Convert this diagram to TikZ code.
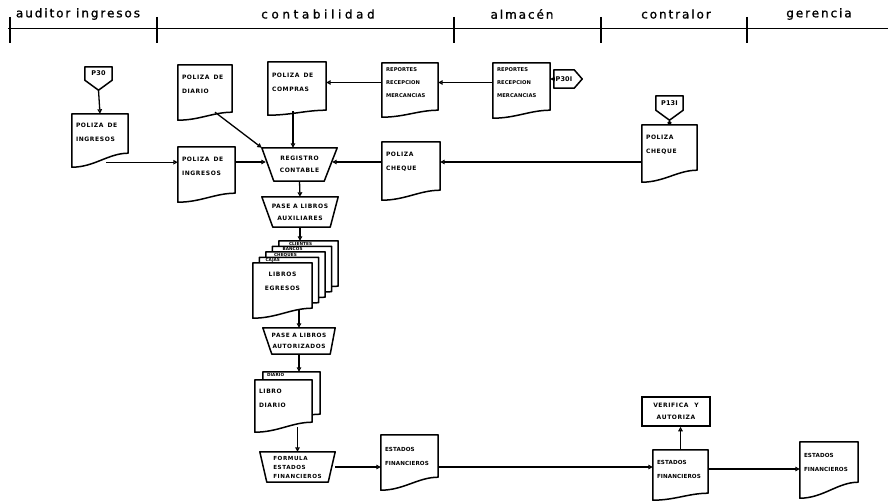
\documentclass[tikz,border=0pt]{standalone}
\usepackage{fontspec}
\usetikzlibrary{calc,arrows.meta}
\newfontfamily\hdrfont[LetterSpace=16,FakeBold=1.2]{DejaVu Sans}
\newfontfamily\hdrwidefont[LetterSpace=30,FakeBold=1.2]{DejaVu Sans}
\newfontfamily\boxfont[LetterSpace=10]{DejaVu Sans}
\newfontfamily\boxtight[LetterSpace=2]{DejaVu Sans}
\newcommand\wgap{\hspace{4pt}}
\pgfdeclarelayer{background}
\pgfsetlayers{background,main}

% document symbol: straight top and sides, wavy bottom (right drop, left drop)
\newcommand\docline[3]{%
  \draw[shp] (#1.north west) -- (#1.north east) -- ($(#1.south east)+(0,#2)$)
    .. controls ($(#1.south east)!0.35!(#1.south west)+(0,#2)$)
       and ($(#1.south east)!0.6!(#1.south west)+(0,#3)$)
    .. ($(#1.south west)+(0,#3)$) -- cycle;}
% manual operation: wide top, narrow bottom (left inset, right inset)
\newcommand\trapline[3]{%
  \draw[shp] (#1.north west) -- (#1.north east) -- ($(#1.south east)+(-#3,0)$)
    -- ($(#1.south west)+(#2,0)$) -- cycle;}
% off-page connectors
\newcommand\offdown[2]{%
  \draw[shp] (#1.north west) -- (#1.north east) -- (#1.south east)
    -- ($(#1.south)+(0,#2)$) -- (#1.south west) -- cycle;}
\newcommand\offright[2]{%
  \draw[shp] (#1.north west) -- (#1.north east) -- ($(#1.east)+(#2,0)$)
    -- (#1.south east) -- (#1.south west) -- cycle;}

\begin{document}
\begin{tikzpicture}[x=1pt,y=-1pt,
  shp/.style={line width=1.5pt, line join=round, fill=white},
  rule/.style={line width=1.5pt},
  hdr/.style={inner sep=0pt, font=\hdrfont\fontsize{12}{12}\selectfont},
  doc/.style 2 args={inner xsep=4pt, inner ysep=0pt, text width=#1,
    minimum height=#2, align=left,
    font=\boxfont\bfseries\fontsize{6}{14}\selectfont},
  tight/.style={font=\boxtight\bfseries\fontsize{5.6}{14}\selectfont},
  trap/.style 2 args={inner sep=0pt, minimum width=#1, minimum height=#2,
    align=center, font=\boxfont\bfseries\fontsize{6}{12}\selectfont},
  procbox/.style 2 args={draw, line width=1.5pt, inner sep=0pt,
    minimum width=#1, minimum height=#2, align=center,
    font=\boxfont\bfseries\fontsize{6}{12}\selectfont},
  offc/.style 2 args={inner sep=0pt, minimum width=#1, minimum height=#2,
    font=\boxtight\bfseries\fontsize{6.5}{7}\selectfont},
  tabtext/.style={inner sep=0pt, anchor=north west,
    font=\boxtight\bfseries\fontsize{4.2}{4}\selectfont},
  flow/.style={line width=1.3pt, -{Triangle[open,length=4.5pt,width=4.5pt]}},
  dotend/.style={line width=1.3pt, -{Circle[length=4pt]}}]
\useasboundingbox (0,0) rectangle (888,503);

% ---- swimlane header ----
\node[hdr] (hA)  at (78,14)  {auditor ingresos};
\node[hdr, font=\hdrwidefont\fontsize{12}{12}\selectfont] (hC) at (318,14) {contabilidad};
\node[hdr] (hAl) at (522,14) {almacén};
\node[hdr] (hCo) at (676,14) {contralor};
\node[hdr] (hG)  at (819,14) {gerencia};
\draw[rule] (8,28.5) -- (888,28.5);
\foreach \x in {10,157,454,601,747} \draw[rule] (\x,17) -- (\x,43);

% ---- auditor ingresos ----
\node[offc={27pt}{13pt}] (p30) at (98.5,73.5) {P30};
\node[doc={48pt}{36pt}] (ingA) at (100,132) {POLIZA\wgap DE\\INGRESOS};

% ---- contabilidad ----
\node[doc={46pt}{39pt}] (diario) at (205,84.5) {POLIZA\wgap DE\\DIARIO};
\node[doc={50pt}{40pt}] (compras) at (297,82) {POLIZA\wgap DE\\COMPRAS};
\node[doc={48pt}{39pt}, tight, font=\boxtight\bfseries\fontsize{5.2}{13}\selectfont] (repC) at (410,82.5) {REPORTES\\RECEPCION\\MERCANCIAS};
\node[doc={49pt}{39pt}] (ingB) at (206.5,166.5) {POLIZA\wgap DE\\INGRESOS};
\node[trap={75pt}{33pt}] (reg) at (299.5,164.5) {REGISTRO\\CONTABLE};
\node[doc={50pt}{40pt}] (chqC) at (411,162) {POLIZA\\CHEQUE};
\node[trap={76pt}{30pt}] (pase) at (300,212) {PASE A LIBROS\\AUXILIARES};

% stack of auxiliary books
\node[doc={51pt}{37pt}] (lib4) at (308.5,259.5) {};
\node[doc={51pt}{37pt}] (lib3) at (302,265) {};
\node[doc={51pt}{37pt}] (lib2) at (295.5,270.5) {};
\node[doc={51pt}{37pt}] (lib1) at (289,276) {};
\node[doc={51pt}{37pt}, align=center] (libF) at (282.5,281.5) {LIBROS\\EGRESOS};
\node[tabtext] (lib4t) at ($(lib4.north west)+(10,1)$) {CLIENTES};
\node[tabtext] (lib3t) at ($(lib3.north west)+(10,1)$) {BANCOS};
\node[tabtext] (lib2t) at ($(lib2.north west)+(8,1)$) {CHEQUES};
\node[tabtext] (lib1t) at ($(lib1.north west)+(6,1)$) {CAJAS};

\node[trap={72pt}{26pt}, font=\boxfont\bfseries\fontsize{5.8}{11}\selectfont] (pase2) at (299,341) {PASE A LIBROS\\AUTORIZADOS};

\node[doc={49pt}{37pt}] (ldB) at (291.5,390.5) {};
\node[doc={49pt}{37pt}] (ldF) at (283.5,398.5) {LIBRO\\DIARIO};
\node[tabtext] (ldBt) at ($(ldB.north west)+(4,1)$) {DIARIO};

\node[trap={75pt}{30pt}, align=left, font=\boxfont\bfseries\fontsize{5.6}{9}\selectfont] (formula) at (297.5,467) {FORMULA\\ESTADOS\\FINANCIEROS};
\node[doc={49pt}{42pt}, tight] (estC) at (409.5,456) {ESTADOS\\FINANCIEROS};

% ---- almacen ----
\node[doc={49pt}{39pt}, tight, font=\boxtight\bfseries\fontsize{5.2}{13}\selectfont] (repA) at (521.5,82.5) {REPORTES\\RECEPCION\\MERCANCIAS};
\node[offc={20pt}{18pt}] (p30i) at (564,79) {P30I};

% ---- contralor ----
\node[offc={27pt}{14pt}] (p13i) at (669.5,103) {P13I};
\node[doc={47pt}{40pt}] (chqK) at (669.5,145) {POLIZA\\CHEQUE};
\node[procbox={68pt}{29pt}] (verif) at (676,411.5) {VERIFICA\quad Y\\AUTORIZA};
\node[doc={47pt}{38pt}, tight] (estK) at (680.5,469) {ESTADOS\\FINANCIEROS};

% ---- gerencia ----
\node[doc={50pt}{40pt}, tight] (estG) at (829,462) {ESTADOS\\FINANCIEROS};

% ---- symbol outlines ----
\begin{pgfonlayer}{background}
  \offdown{p30}{10}
  \docline{ingA}{3}{17}
  \docline{diario}{8}{16}
  \docline{compras}{8}{13}
  \docline{repC}{8}{15}
  \docline{ingB}{7}{16}
  \trapline{reg}{12}{13}
  \docline{chqC}{8}{18}
  \trapline{pase}{11}{8}
  \docline{lib4}{8}{18}
  \docline{lib3}{8}{18}
  \docline{lib2}{8}{18}
  \docline{lib1}{8}{18}
  \docline{libF}{8}{18}
  \trapline{pase2}{9}{5}
  \docline{ldB}{5}{15}
  \docline{ldF}{5}{15}
  \trapline{formula}{7}{7}
  \docline{estC}{0}{13}
  \docline{repA}{8}{16}
  \offright{p30i}{8}
  \offdown{p13i}{10}
  \docline{chqK}{5}{17}
  \docline{estK}{5}{12}
  \docline{estG}{0}{16}
\end{pgfonlayer}

% ---- flow connectors ----
\coordinate (p30tip) at ($(p30.south)+(0,10)$);
\draw[flow] (p30tip) -- (ingA.north);
\coordinate (ingAout) at ($(ingA.south)+(6,12)$);
\draw[flow] (ingAout) -- (ingAout -| ingB.west);
\draw[flow] (ingB.east |- chqC.west) -- ($(reg.west |- chqC.west)+(4,0)$);
\coordinate (diaout) at ($(diario.south)+(10,8)$);
\draw[flow] (diaout) -- (reg.north west);
\coordinate (cmpout) at ($(compras.south)+(-4,9)$);
\draw[flow] (cmpout) -- (cmpout |- reg.north);
\draw[flow] (repC.west) -- (repC.west -| compras.east);
\draw[flow] (repA.west) -- (repA.west -| repC.east);
\draw[flow] (p30i.west) -- (p30i.west -| repA.east);
\draw[flow] (chqC.west) -- ($(chqC.west -| reg.east)+(-5,0)$);
\draw[flow] (chqK.west |- chqC.east) -- (chqC.east);
\coordinate (p13tip) at ($(p13i.south)+(0,10)$);
\draw[dotend] (p13tip) -- (chqK.north);
\draw[flow] (reg.south) -- (pase.north);
\draw[flow] (pase.south) -- (pase.south |- lib4.north);
\coordinate (libout) at ($(pase2.north |- libF.south)+(0,10)$);
\draw[flow] (libout) -- (pase2.north);
\draw[flow] (pase2.south) -- (pase2.south |- ldB.north);
\coordinate (ldout) at ($(formula.north |- ldF.south)+(0,10)$);
\draw[flow] (ldout) -- (formula.north);
\draw[flow] (formula.east) -- (formula.east -| estC.west);
\draw[flow] (estC.east |- formula.east) -- (estK.west |- formula.east);
\draw[flow] (estK.north) -- (estK.north |- verif.south);
\draw[flow] (estK.east) -- (estK.east -| estG.west);
\end{tikzpicture}
\end{document}
